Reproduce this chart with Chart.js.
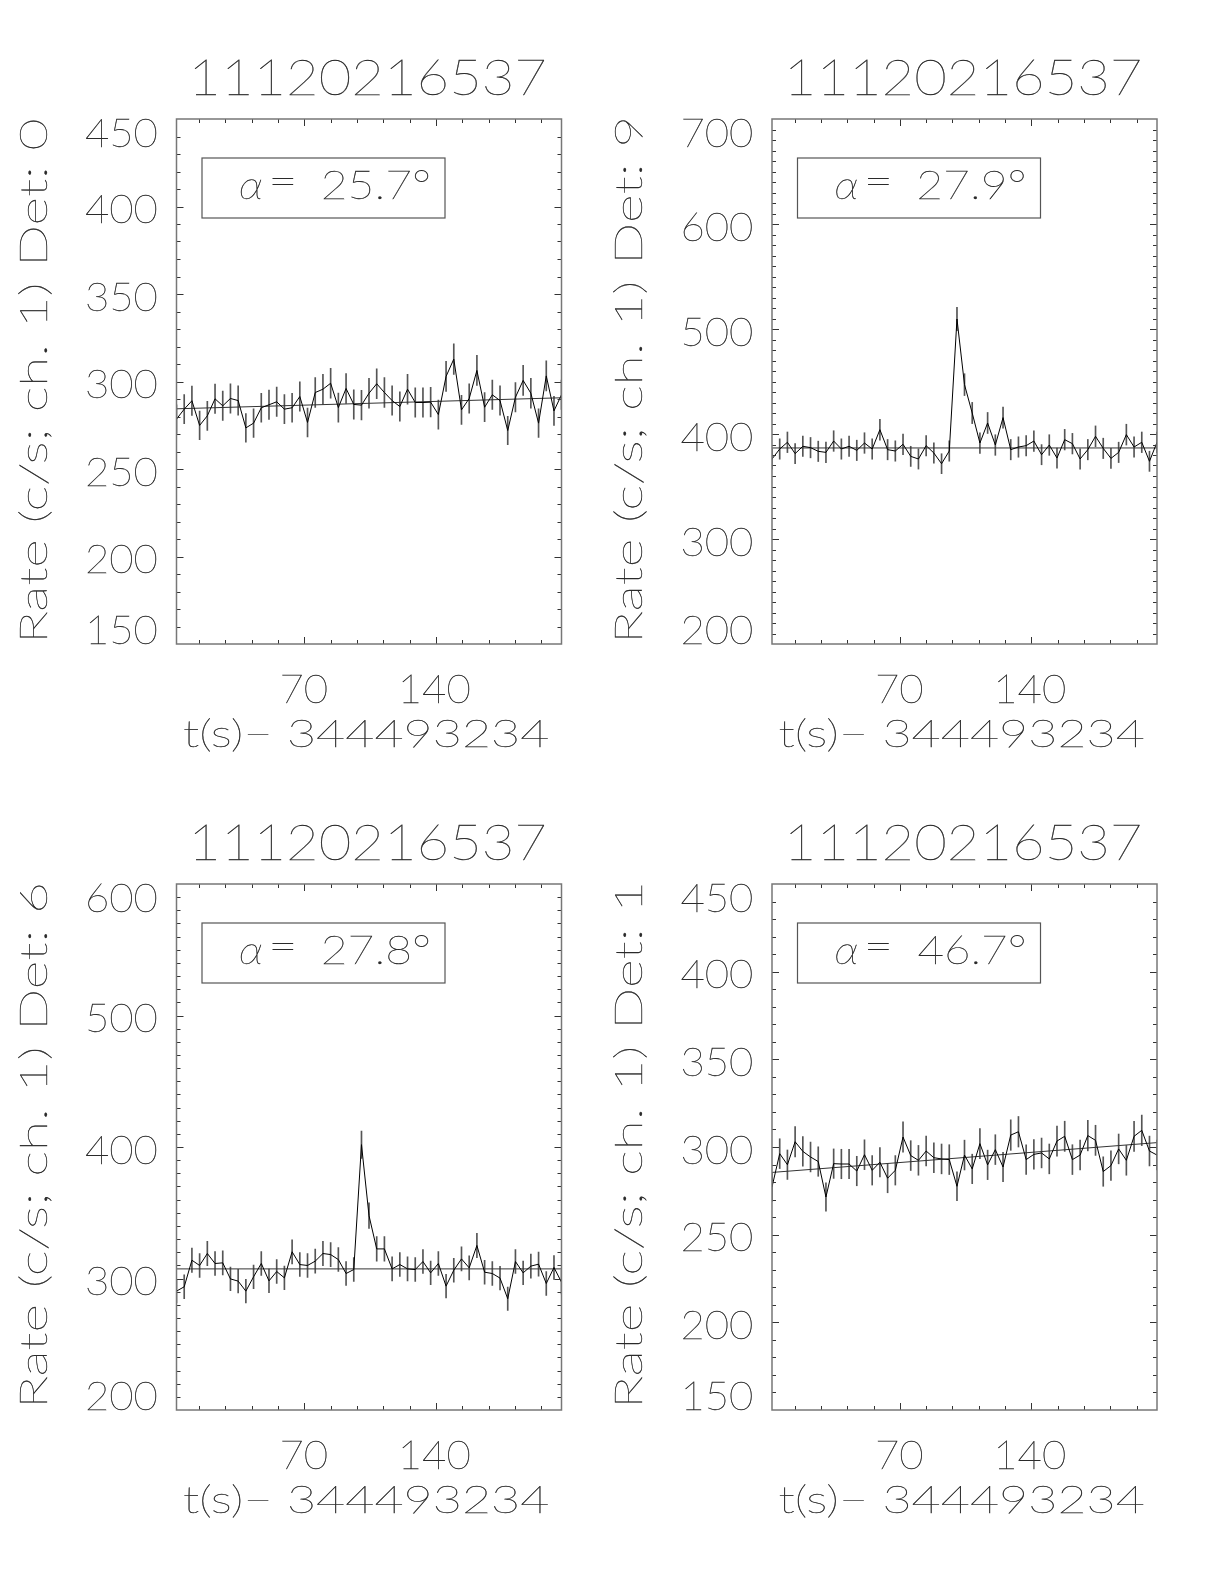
<!DOCTYPE html>
<html>
<head>
<meta charset="utf-8">
<title>11120216537 - GBM count rates</title>
<script src="https://cdn.jsdelivr.net/npm/chart.js@4.4.1/dist/chart.umd.min.js"></script>
<style>
    html, body { margin: 0; padding: 0; background: #fff; }
    #page { position: relative; width: 1224px; height: 1584px; background: #fff; }
    #page canvas { position: absolute; }
</style>
</head>
<body>
<div id="page">
    <canvas id="det0" width="612" height="792" style="left:0;top:0"></canvas>
    <canvas id="det9" width="612" height="792" style="left:612px;top:0"></canvas>
    <canvas id="det6" width="612" height="792" style="left:0;top:792px"></canvas>
    <canvas id="det1" width="612" height="792" style="left:612px;top:792px"></canvas>
</div>
<script>
// Bin centres (s, relative to 344493234), 4.096 s bins
const binTimes = [2.0, 6.1, 10.2, 14.3, 18.4, 22.5, 26.6, 30.7, 34.8, 38.9,
    43.0, 47.1, 51.2, 55.3, 59.4, 63.5, 67.6, 71.7, 75.8, 79.9,
    84.0, 88.1, 92.2, 96.3, 100.4, 104.4, 108.5, 112.6, 116.7, 120.8,
    124.9, 129.0, 133.1, 137.2, 141.3, 145.4, 149.5, 153.6, 157.7, 161.8,
    165.9, 170.0, 174.1, 178.2, 182.3, 186.4, 190.5, 194.6, 198.7, 202.8,
    206.8];
const xTickLabels = [70, 140];

// Det 0
const rateDet0 = [278.5, 284.2, 289.0, 274.9, 280.4, 290.1, 286.1, 290.3, 289.1, 273.5,
    276.2, 285.0, 286.7, 288.4, 284.2, 285.0, 291.4, 276.6, 293.7, 295.6,
    299.0, 285.1, 296.0, 286.9, 286.5, 293.3, 298.7, 293.7, 289.1, 285.7,
    295.6, 288.0, 288.0, 288.2, 281.1, 302.9, 312.8, 283.8, 290.3, 306.3,
    285.3, 292.4, 289.1, 272.0, 291.0, 300.6, 293.3, 276.2, 303.2, 283.2,
    292.4];
const errDet0 = [8.2, 8.3, 8.4, 8.2, 8.3, 8.4, 8.4, 8.4, 8.4, 8.2,
    8.2, 8.3, 8.4, 8.4, 8.3, 8.3, 8.4, 8.2, 8.5, 8.5,
    8.5, 8.3, 8.5, 8.4, 8.4, 8.5, 8.5, 8.5, 8.4, 8.4,
    8.5, 8.4, 8.4, 8.4, 8.3, 8.6, 8.7, 8.3, 8.4, 8.6,
    8.3, 8.4, 8.4, 8.1, 8.4, 8.6, 8.5, 8.2, 8.6, 8.3,
    8.4];
const fitDet0 = [284.4, 290.7];
const yLabelsDet0 = [150, 200, 250, 300, 350, 400, 450];

// Det 9
const rateDet9 = [376.2, 385.7, 392.1, 381.3, 388.3, 387.0, 383.5, 382.5, 393.3, 385.7,
    388.3, 384.4, 391.4, 385.7, 404.1, 385.1, 383.8, 390.2, 378.7, 376.2,
    388.9, 381.9, 371.7, 383.8, 509.5, 447.0, 420.0, 391.4, 410.5, 389.5,
    415.6, 385.1, 387.6, 388.9, 393.3, 380.3, 389.5, 377.1, 394.6, 390.8,
    376.2, 385.1, 397.8, 386.3, 376.8, 382.5, 399.4, 387.6, 392.1, 374.0,
    392.1];
const errDet9 = [9.6, 9.7, 9.8, 9.6, 9.7, 9.7, 9.7, 9.7, 9.8, 9.7,
    9.7, 9.7, 9.8, 9.7, 9.9, 9.7, 9.7, 9.8, 9.6, 9.6,
    9.7, 9.7, 9.5, 9.7, 11.2, 10.4, 10.1, 9.8, 10.0, 9.8,
    10.1, 9.7, 9.7, 9.7, 9.8, 9.6, 9.8, 9.6, 9.8, 9.8,
    9.6, 9.7, 9.9, 9.7, 9.6, 9.7, 9.9, 9.7, 9.8, 9.6,
    9.8];
const fitDet9 = [386.7, 386.7];
const yLabelsDet9 = [200, 300, 400, 500, 600, 700];

// Det 6
const rateDet6 = [290.4, 293.7, 313.9, 309.9, 319.0, 311.4, 311.9, 299.7, 298.0, 290.4,
    301.3, 311.4, 298.2, 305.3, 300.5, 320.3, 310.6, 309.9, 313.2, 319.0,
    318.2, 314.4, 303.8, 306.8, 401.8, 347.8, 322.5, 322.5, 307.3, 310.6,
    307.3, 306.8, 312.9, 304.3, 311.4, 294.2, 306.3, 314.9, 308.1, 325.1,
    304.8, 303.8, 300.3, 284.6, 312.9, 304.3, 309.4, 310.9, 296.2, 308.4,
    297.2];
const errDet6 = [8.9, 9.0, 9.2, 9.1, 9.2, 9.1, 9.1, 9.0, 9.0, 8.9,
    9.0, 9.1, 9.0, 9.1, 9.0, 9.2, 9.1, 9.1, 9.1, 9.2,
    9.2, 9.1, 9.0, 9.1, 10.4, 9.7, 9.3, 9.3, 9.1, 9.1,
    9.1, 9.1, 9.1, 9.0, 9.1, 8.9, 9.1, 9.1, 9.1, 9.3,
    9.1, 9.0, 9.0, 8.8, 9.1, 9.0, 9.1, 9.1, 9.0, 9.1,
    9.0];
const fitDet6 = [307.3, 307.3];
const yLabelsDet6 = [200, 300, 400, 500, 600];

// Det 1
const rateDet1 = [277.2, 296.2, 289.9, 303.0, 297.5, 294.3, 291.7, 271.5, 290.5, 290.3,
    290.3, 286.3, 295.6, 286.7, 291.3, 282.2, 286.7, 305.7, 295.1, 292.4,
    297.7, 293.9, 293.2, 292.8, 277.6, 295.4, 287.5, 301.9, 289.8, 298.5,
    288.6, 306.8, 308.7, 292.8, 295.8, 296.6, 293.2, 303.4, 306.1, 292.8,
    295.4, 306.5, 303.8, 286.0, 289.4, 298.9, 292.4, 306.1, 309.5, 297.7,
    295.4];
const errDet1 = [8.2, 8.5, 8.4, 8.6, 8.5, 8.5, 8.4, 8.1, 8.4, 8.4,
    8.4, 8.4, 8.5, 8.4, 8.4, 8.3, 8.4, 8.6, 8.5, 8.5,
    8.5, 8.5, 8.5, 8.5, 8.2, 8.5, 8.4, 8.6, 8.4, 8.5,
    8.4, 8.7, 8.7, 8.5, 8.5, 8.5, 8.5, 8.6, 8.6, 8.5,
    8.5, 8.7, 8.6, 8.4, 8.4, 8.5, 8.5, 8.6, 8.7, 8.5,
    8.5];
const fitDet1 = [285.5, 302.5];
const yLabelsDet1 = [150, 200, 250, 300, 350, 400, 450];

const FONT_WEIGHT = '100';
const TEXT_COLOR = '#2a2a2a';

// pick the installed family whose light weight is thinnest (IDL vector fonts are hairline)
function pickThinFont() {
    const candidates = ['Lato', 'Inter', 'Roboto', 'Open Sans', 'DejaVu Sans', 'Noto Sans', 'Liberation Sans'];
    const c = document.createElement('canvas');
    c.width = 160; c.height = 160;
    const g = c.getContext('2d', { willReadFrequently: true });
    const ink = (font) => {
        g.clearRect(0, 0, 160, 160);
        g.font = font;
        g.fillStyle = '#000';
        g.fillText('0', 20, 130);
        const d = g.getImageData(0, 0, 160, 160).data;
        let s = 0;
        for (let i = 3; i < d.length; i += 4) s += d[i];
        return s;
    };
    let best = candidates[0];
    let bestRatio = Infinity;
    candidates.forEach(f => {
        const thin = ink(FONT_WEIGHT + ' 100px "' + f + '"');
        const reg = ink('400 100px "' + f + '"');
        const r = reg > 0 ? thin / reg : Infinity;
        if (r < bestRatio - 0.02) { bestRatio = r; best = f; }
    });
    return '"' + best + '", sans-serif';
}
const FONT = pickThinFont();

function fontAt(size, italic) {
    return (italic ? 'italic ' : '') + FONT_WEIGHT + ' ' + size.toFixed(2) + 'px ' + FONT;
}

// font size giving digits of height capH
function sizeForCap(ctx, capH, italic) {
    ctx.font = fontAt(100, italic);
    return 100 * capH / ctx.measureText('0').actualBoundingBoxAscent;
}

// hairline faces are thinner than one pixel: fill and add a light stroke
function paintText(ctx, text, x) {
    ctx.fillText(text, x, 0);
    ctx.strokeText(text, x, 0);
}

// draw text so its ink goes from x0 to x1, baseline at y
function drawInk(ctx, text, x0, x1, y, capH, italic) {
    ctx.font = fontAt(sizeForCap(ctx, capH, italic), italic);
    ctx.textAlign = 'left';
    ctx.textBaseline = 'alphabetic';
    const m = ctx.measureText(text);
    const w = m.actualBoundingBoxLeft + m.actualBoundingBoxRight;
    ctx.save();
    ctx.translate(x0, y);
    ctx.scale((x1 - x0) / w, 1);
    paintText(ctx, text, m.actualBoundingBoxLeft);
    ctx.restore();
}

// tick label: align 'right' or 'center' to anchor x, stretched by sx
function drawTickLabel(ctx, text, ax, align, y, capH, sx) {
    ctx.font = fontAt(sizeForCap(ctx, capH, false), false);
    ctx.textAlign = 'left';
    ctx.textBaseline = 'alphabetic';
    const m = ctx.measureText(text);
    const w = (m.actualBoundingBoxLeft + m.actualBoundingBoxRight) * sx;
    const x0 = align === 'right' ? ax - w : ax - w / 2;
    ctx.save();
    ctx.translate(x0, y);
    ctx.scale(sx, 1);
    paintText(ctx, text, m.actualBoundingBoxLeft);
    ctx.restore();
}

// IDL style frame: box, inward ticks, labels, titles, angle box
const idlFrame = {
    id: 'idlFrame',
    afterDraw(chart, args, opts) {
        const ctx = chart.ctx;
        const { left, top, right, bottom } = chart.chartArea;
        const xs = chart.scales.x;
        const ys = chart.scales.y;
        ctx.save();

        // tick marks
        ctx.strokeStyle = '#333';
        ctx.lineWidth = 1;
        ctx.beginPath();
        for (let v = ys.min + 10; v < ys.max; v += 10) {
            const py = Math.round(ys.getPixelForValue(v)) + 0.5;
            const len = opts.yLabels.includes(v) ? 7 : 4;
            ctx.moveTo(left, py); ctx.lineTo(left + len, py);
            ctx.moveTo(right, py); ctx.lineTo(right - len, py);
        }
        for (let v = 14; v < xs.max; v += 14) {
            const px = Math.round(xs.getPixelForValue(v)) + 0.5;
            const len = xTickLabels.includes(v) ? 7 : 4;
            ctx.moveTo(px, bottom); ctx.lineTo(px, bottom - len);
            ctx.moveTo(px, top); ctx.lineTo(px, top + len);
        }
        ctx.stroke();

        // box
        ctx.strokeStyle = '#777';
        ctx.lineWidth = 1.5;
        ctx.strokeRect(left, top, right - left, bottom - top);

        ctx.fillStyle = TEXT_COLOR;
        ctx.strokeStyle = TEXT_COLOR;
        ctx.lineWidth = 0.35;

        // y tick labels
        ctx.font = fontAt(sizeForCap(ctx, 28, false), false);
        const m450 = ctx.measureText('450');
        const sx = 71 / (m450.actualBoundingBoxLeft + m450.actualBoundingBoxRight);
        opts.yLabels.forEach(v => {
            let cy = ys.getPixelForValue(v) + 2.5;
            cy = Math.min(Math.max(cy, top + 14), bottom - 14);
            drawTickLabel(ctx, String(v), left - 19.5, 'right', cy + 14, 28, sx);
        });

        // x tick labels
        xTickLabels.forEach(v => {
            drawTickLabel(ctx, String(v), xs.getPixelForValue(v), 'center', bottom + 59, 28, sx);
        });

        // titles
        drawInk(ctx, opts.title, left + 17.5, left + 367.5, top - 24, 35, false);
        drawInk(ctx, 't(s)\u2212 344493234', left + 7.5, left + 371.5, bottom + 103, 27, false);

        ctx.save();
        ctx.translate(left - 130, top + 519);
        ctx.rotate(-Math.PI / 2);
        drawInk(ctx, opts.yTitle, 0, 518, 0, 27, false);
        ctx.restore();

        // angle box
        ctx.save();
        ctx.strokeStyle = '#555';
        ctx.lineWidth = 1.2;
        ctx.strokeRect(left + 25.5, top + 39, 243, 60);
        ctx.restore();
        drawInk(ctx, '\u03b1', left + 63.5, left + 85.5, top + 80, 29, true);
        drawInk(ctx, '=', left + 95.5, left + 116.5, top + 76, 29, false);
        drawInk(ctx, opts.alpha, left + 146.5, left + 252.5, top + 80, 29, false);

        ctx.restore();
    }
};

function makePanel(canvasId, rates, errs, fit, yMin, yMax, yLabels, title, yTitle, alpha, pad) {
    const errorBars = binTimes.map((t, i) => ({ x: t, y: [rates[i] - errs[i], rates[i] + errs[i]] }));
    const points = binTimes.map((t, i) => ({ x: t, y: rates[i] }));
    const fitLine = [
        { x: binTimes[0], y: fit[0] },
        { x: binTimes[binTimes.length - 1], y: fit[1] }
    ];

    return new Chart(document.getElementById(canvasId), {
        type: 'bar',
        data: {
            datasets: [
                {
                    type: 'bar',
                    data: errorBars,
                    backgroundColor: '#555',
                    barThickness: 1,
                    order: 3
                },
                {
                    type: 'line',
                    data: fitLine,
                    borderColor: '#333',
                    borderWidth: 1,
                    pointRadius: 0,
                    order: 2
                },
                {
                    type: 'line',
                    data: points,
                    borderColor: '#000',
                    borderWidth: 1,
                    pointRadius: 0,
                    tension: 0,
                    order: 1
                }
            ]
        },
        options: {
            responsive: false,
            animation: false,
            devicePixelRatio: 1,
            layout: { padding: pad },
            plugins: {
                legend: { display: false },
                tooltip: { enabled: false },
                idlFrame: { yLabels: yLabels, title: title, yTitle: yTitle, alpha: alpha }
            },
            scales: {
                x: {
                    type: 'linear',
                    display: false,
                    offset: false,
                    min: binTimes[0],
                    max: binTimes[binTimes.length - 1]
                },
                y: {
                    type: 'linear',
                    display: false,
                    min: yMin,
                    max: yMax
                }
            }
        },
        plugins: [idlFrame]
    });
}

const padLeftTop = { left: 176.5, top: 119, right: 50.5, bottom: 148 };
const padRightTop = { left: 160, top: 119, right: 67, bottom: 148 };
const padLeftBottom = { left: 176.5, top: 92, right: 50.5, bottom: 174 };
const padRightBottom = { left: 160, top: 92, right: 67, bottom: 174 };

makePanel('det0', rateDet0, errDet0, fitDet0, 150, 450, yLabelsDet0,
    '11120216537', 'Rate (c/s; ch. 1) Det: 0', '25.7\u00b0', padLeftTop);
makePanel('det9', rateDet9, errDet9, fitDet9, 200, 700, yLabelsDet9,
    '11120216537', 'Rate (c/s; ch. 1) Det: 9', '27.9\u00b0', padRightTop);
makePanel('det6', rateDet6, errDet6, fitDet6, 200, 600, yLabelsDet6,
    '11120216537', 'Rate (c/s; ch. 1) Det: 6', '27.8\u00b0', padLeftBottom);
makePanel('det1', rateDet1, errDet1, fitDet1, 150, 450, yLabelsDet1,
    '11120216537', 'Rate (c/s; ch. 1) Det: 1', '46.7\u00b0', padRightBottom);
</script>
</body>
</html>
